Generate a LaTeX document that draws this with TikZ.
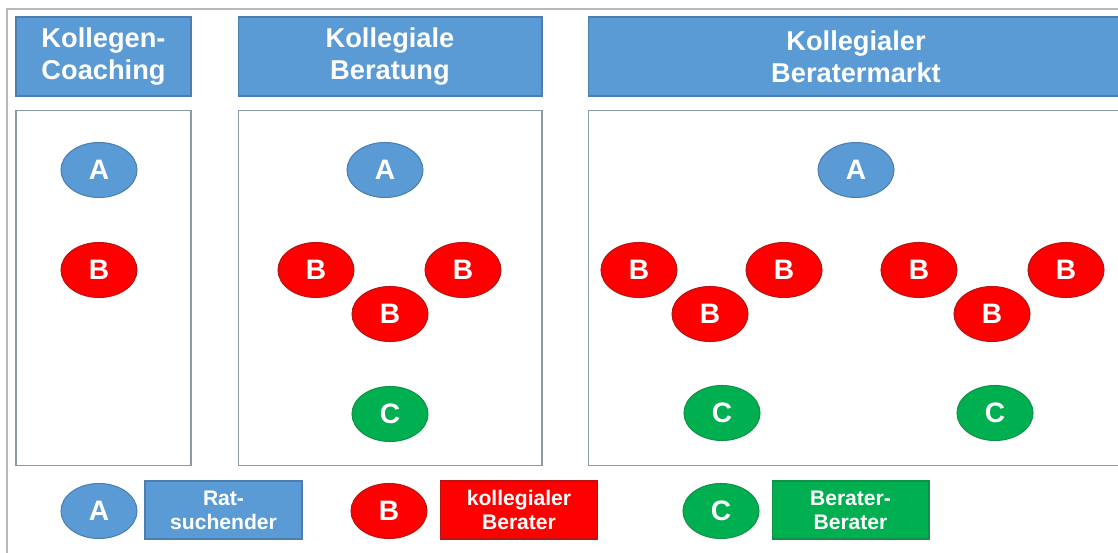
\documentclass[tikz,border=0pt]{standalone}
\usepackage{fontspec}
\setmainfont{Liberation Sans}
\usetikzlibrary{shapes.geometric}

\definecolor{ratblau}{HTML}{5B9BD5}
\definecolor{ratrand}{HTML}{4A7FB0}
\definecolor{beraterrot}{HTML}{FF0000}
\definecolor{rotrand}{HTML}{B81414}
\definecolor{beratergruen}{HTML}{00B050}
\definecolor{gruenrand}{HTML}{129048}
\definecolor{rahmen}{HTML}{8C99A8}

\begin{document}
\begin{tikzpicture}[x=0.02cm,y=-0.02cm,line width=0.6pt,
  person/.style={ellipse,minimum width=1.52cm,minimum height=1.1cm,inner sep=0pt,
    text=white,font=\bfseries\fontsize{16}{18}\selectfont},
  rat/.style={person,fill=ratblau,draw=ratrand},
  berater/.style={person,fill=beraterrot,draw=rotrand},
  bb/.style={person,fill=beratergruen,draw=gruenrand},
  kopf/.style={rectangle,fill=ratblau,draw=ratrand,text=white,align=center,
    minimum height=1.58cm,font=\bfseries\fontsize{15.5}{18}\selectfont},
  feld/.style={rectangle,draw=rahmen,minimum height=7.12cm},
  legende/.style={rectangle,text=white,align=center,minimum width=3.14cm,
    minimum height=1.16cm,font=\bfseries\fontsize{12}{13.5}\selectfont}]

  \clip (0,0) rectangle (1118,553);
  \fill[white] (0,0) rectangle (1118,553);
  % aeusserer rahmen
  \draw[gray!55] (7,553) -- (7,9) -- (1118,9);

  % kopfzeilen
  \node[kopf,minimum width=3.5cm] (kopfA) at (103.5,56.5) {Kollegen-\\Coaching};
  \node[kopf,minimum width=6.08cm] (kopfB) at (390,56.5) {Kollegiale\\Beratung};
  \node[kopf,minimum width=10.72cm] (kopfC) at (856,56.5) {Kollegialer\\Beratermarkt};

  % felder
  \node[feld,minimum width=3.5cm] (feldA) at (103.5,288) {};
  \node[feld,minimum width=6.08cm] (feldB) at (390,288) {};
  \node[feld,minimum width=10.72cm] (feldC) at (856,288) {};

  % kollegen-coaching
  \node[rat] (a1) at (99,170) {A};
  \node[berater] (b1) at (99,270) {B};

  % kollegiale beratung
  \node[rat] (a2) at (385,170) {A};
  \node[berater] (b21) at (316,270) {B};
  \node[berater] (b22) at (463,270) {B};
  \node[berater] (b23) at (390,314) {B};
  \node[bb] (c2) at (390,414) {C};

  % beratermarkt
  \node[rat] (a3) at (856,170) {A};
  \node[berater] (b31) at (639,270) {B};
  \node[berater] (b32) at (784,270) {B};
  \node[berater] (b33) at (710,314) {B};
  \node[berater] (b34) at (919,270) {B};
  \node[berater] (b35) at (1066,270) {B};
  \node[berater] (b36) at (992,314) {B};
  \node[bb] (c31) at (722,413) {C};
  \node[bb] (c32) at (995,413) {C};

  % legende
  \node[rat] (la) at (99,511) {A};
  \node[legende,fill=ratblau,draw=ratrand] (lta) at (223.5,510) {Rat-\\suchender};
  \node[berater] (lb) at (389,511) {B};
  \node[legende,fill=beraterrot,draw=rotrand] (ltb) at (519,510) {kollegialer\\Berater};
  \node[bb] (lc) at (721,511) {C};
  \node[legende,fill=beratergruen,draw=gruenrand] (ltc) at (850.5,510) {Berater-\\Berater};
\end{tikzpicture}
\end{document}
